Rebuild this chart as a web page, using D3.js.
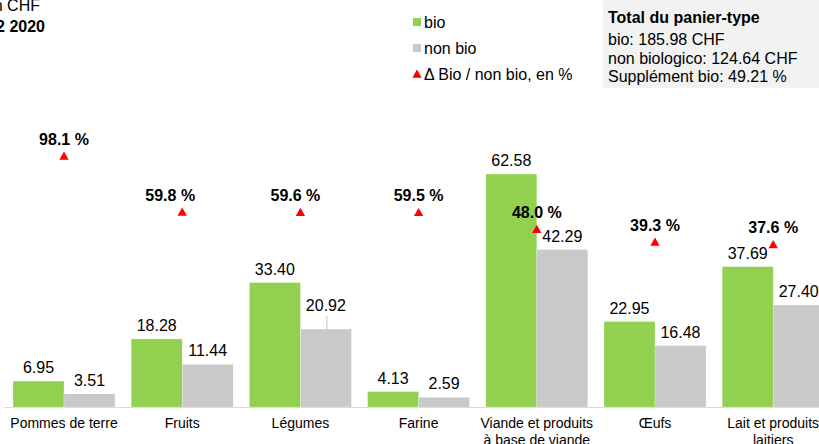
<!DOCTYPE html>
<html>
<head>
<meta charset="utf-8">
<script src="https://cdn.jsdelivr.net/npm/d3@7"></script>
<style>
  html, body { margin: 0; padding: 0; background: #fff; }
  svg { display: block; font-family: "Liberation Sans", Arial, sans-serif; }
</style>
</head>
<body>
<div id="chart"></div>
<script>
// Data
var categories = ["Pommes de terre", "Fruits", "Légumes", "Farine",
  "Viande et produits\nà base de viande", "Œufs", "Lait et produits\nlaitiers"];
var bioValues = [6.95, 18.28, 33.40, 4.13, 62.58, 22.95, 37.69];
var nonBioValues = [3.51, 11.44, 20.92, 2.59, 42.29, 16.48, 27.40];
var deltaPct = [98.1, 59.8, 59.6, 59.5, 48.0, 39.3, 37.6];
var totalLines = ["Total du panier-type", "bio: 185.98 CHF", "non biologico: 124.64 CHF", "Supplément bio: 49.21 %"];
var legendLabels = ["bio", "non bio", "\u0394 Bio / non bio, en %"];

var drawChart = function() {
    // Size & style
    const width = 819, height = 444;
    const baseline = 407;
    const green = "#92d050", grey = "#c9c9c9", red = "#ff0000";

    // hand-moved labels in the original (Fruits, Légumes pct; Légumes non bio value)
    var pctNudge = { "Fruits": -12, "Légumes": -5 };
    var liftedValue = { cat: "Légumes", key: "nonbio", lift: 10 };

    var svg = d3.select("#chart").append("svg")
        .attr("width", width)
        .attr("height", height);

    // Scales
    var x = d3.scaleBand()
        .domain(categories)
        .range([4.9, 832.3])
        .paddingInner(0.137)
        .paddingOuter(0.0685);

    var xSub = d3.scaleBand()
        .domain(["bio", "nonbio"])
        .range([0, x.bandwidth()]);

    var y = d3.scaleLinear().domain([0, 62.58]).range([baseline, 174]);
    var y2 = d3.scaleLinear().domain([0, 100]).range([300.4, 154.2]);

    // Axis line
    svg.append("line")
        .attr("x1", 4).attr("x2", width)
        .attr("y1", baseline + 0.5).attr("y2", baseline + 0.5)
        .attr("stroke", "#d9d9d9").attr("stroke-width", 1);

    var rows = categories.map(function(c, i) {
        return { cat: c, bio: bioValues[i], nonbio: nonBioValues[i], pct: deltaPct[i] };
    });

    var group = svg.append("g").selectAll("g")
        .data(rows).enter().append("g")
        .attr("transform", function(d) { return "translate(" + x(d.cat) + ",0)"; });

    // Bars
    var series = [{ key: "bio", color: green }, { key: "nonbio", color: grey }];
    series.forEach(function(s) {
        var lift = function(d) {
            return (d.cat === liftedValue.cat && s.key === liftedValue.key) ? liftedValue.lift : 0;
        };

        group.append("rect")
            .attr("x", xSub(s.key))
            .attr("y", function(d) { return y(d[s.key]); })
            .attr("width", xSub.bandwidth())
            .attr("height", function(d) { return baseline - y(d[s.key]); })
            .attr("fill", s.color)
            .attr("stroke", "#ffffff").attr("stroke-opacity", 0.4).attr("stroke-width", 0.6);

        // leader line for a lifted label
        group.filter(function(d) { return lift(d) > 0; })
            .append("line")
            .attr("x1", xSub(s.key) + xSub.bandwidth() / 2 + 1)
            .attr("x2", xSub(s.key) + xSub.bandwidth() / 2 + 1)
            .attr("y1", function(d) { return y(d[s.key]); })
            .attr("y2", function(d) { return y(d[s.key]) - lift(d) - 3; })
            .attr("stroke", "#bfbfbf").attr("stroke-width", 1);

        group.append("text")
            .attr("x", xSub(s.key) + xSub.bandwidth() / 2)
            .attr("y", function(d) { return y(d[s.key]) - 8 - lift(d); })
            .attr("text-anchor", "middle")
            .attr("font-size", 16)
            .attr("fill", "#000")
            .text(function(d) { return d[s.key].toFixed(2); });
    });

    // Delta markers
    var tri = d3.symbol().type(d3.symbolTriangle).size(38);
    group.append("path")
        .attr("d", tri)
        .attr("fill", red)
        .attr("transform", function(d) { return "translate(" + (x.bandwidth() / 2) + "," + y2(d.pct) + ")"; });

    group.append("text")
        .attr("x", function(d) { return x.bandwidth() / 2 + (pctNudge[d.cat] || 0); })
        .attr("y", function(d) { return y2(d.pct) - 12; })
        .attr("text-anchor", "middle")
        .attr("font-size", 16)
        .attr("font-weight", "bold")
        .attr("fill", "#000")
        .text(function(d) { return d.pct.toFixed(1) + " %"; });

    // Category labels
    group.append("text")
        .attr("text-anchor", "middle")
        .attr("font-size", 14)
        .attr("fill", "#000")
        .each(function(d) {
            var t = d3.select(this);
            d.cat.split("\n").forEach(function(line, k) {
                t.append("tspan")
                    .attr("x", x.bandwidth() / 2)
                    .attr("y", 428 + k * 17)
                    .text(line);
            });
        });

    // Title (cropped in the original)
    svg.append("text").attr("x", 40).attr("y", 11)
        .attr("text-anchor", "end").attr("font-size", 16).text("n CHF");
    svg.append("text").attr("x", 45).attr("y", 32)
        .attr("text-anchor", "end").attr("font-size", 16).attr("font-weight", "bold").text("2 2020");

    // Legend
    var legend = svg.append("g").attr("transform", "translate(413,0)");
    legend.append("rect").attr("x", 0).attr("y", 18).attr("width", 8).attr("height", 8).attr("fill", green);
    legend.append("rect").attr("x", 0).attr("y", 44).attr("width", 8).attr("height", 8).attr("fill", grey);
    legend.append("path").attr("d", tri).attr("fill", red).attr("transform", "translate(4,75)");
    legendLabels.forEach(function(l, i) {
        legend.append("text")
            .attr("x", 11).attr("y", 27.5 + i * 26)
            .attr("font-size", 16).attr("fill", "#000")
            .text(l);
    });

    // Total box
    svg.append("rect")
        .attr("x", 603).attr("y", 0).attr("width", 230).attr("height", 88)
        .attr("fill", "#f2f2f2");
    var lineY = [23, 45, 63.5, 82];
    totalLines.forEach(function(l, i) {
        svg.append("text")
            .attr("x", 608).attr("y", lineY[i])
            .attr("font-size", 16)
            .attr("font-weight", i === 0 ? "bold" : "normal")
            .attr("fill", "#000")
            .text(l);
    });
};

window.addEventListener("load", drawChart);
</script>
</body>
</html>
